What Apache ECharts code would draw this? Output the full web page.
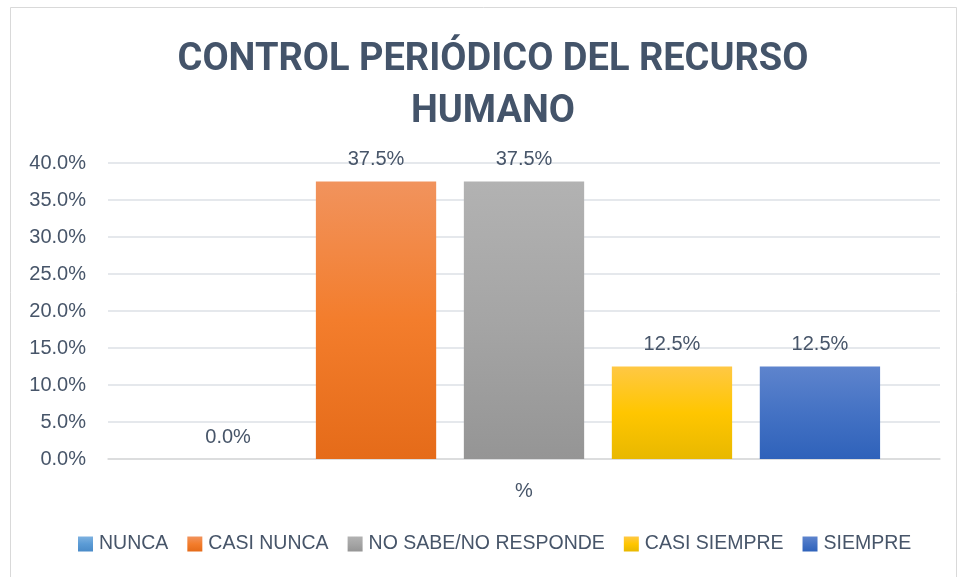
<!DOCTYPE html>
<html>
<head>
<meta charset="utf-8">
<style>
  html, body { margin: 0; padding: 0; background: #fff; }
  #chart { width: 964px; height: 577px; }
</style>
<script src="https://cdn.jsdelivr.net/npm/echarts@6/dist/echarts.min.js"></script>
</head>
<body>
<div id="chart"></div>
<script>
  // datos
  var categories = ["%"];
  var seriesNames = ["NUNCA", "CASI NUNCA", "NO SABE/NO RESPONDE", "CASI SIEMPRE", "SIEMPRE"];
  var seriesValues = [0.0, 37.5, 37.5, 12.5, 12.5];
  var yTicks = { min: 0, max: 40, interval: 5 };

  // degradados tipo Office (arriba, medio, abajo)
  var palette = [
    ["#7DB1E0", "#5B9BD5", "#4A8BC8"],
    ["#F1935D", "#F37D2C", "#E56B19"],
    ["#B2B2B2", "#A5A5A5", "#959595"],
    ["#FFC844", "#FFC600", "#E8B800"],
    ["#5E84CD", "#4472C4", "#2F62BA"]
  ];
  var TXT = "#475569";

  function grad(c) {
    return { type: "linear", x: 0, y: 0, x2: 0, y2: 1,
      colorStops: [{ offset: 0, color: c[0] }, { offset: 0.5, color: c[1] }, { offset: 1, color: c[2] }] };
  }

  var series = seriesNames.map(function (name, i) {
    return {
      name: name, type: "bar",
      data: [seriesValues[i]],
      barGap: "23%", barCategoryGap: "14.4%",
      itemStyle: { color: grad(palette[i]) },
      label: {
        show: true, position: "top", distance: 12,
        color: TXT, fontSize: 20, fontFamily: "Liberation Sans",
        formatter: function (p) { return p.value.toFixed(1) + "%"; }
      }
    };
  });

  var chart = echarts.init(document.getElementById("chart"), null, { renderer: "canvas" });
  chart.setOption({
    backgroundColor: "#fff",
    animation: false,
    title: {
      text: "CONTROL PERIÓDICO DEL RECURSO\nHUMANO",
      left: 493, top: 34, padding: 0, textAlign: "center",
      textStyle: { color: "#44546A", fontSize: 38, fontWeight: "bold",
                   fontFamily: "Roboto", lineHeight: 52 }
    },
    graphic: [{
      type: "rect", shape: { x: 10.5, y: 7.5, width: 946, height: 600 },
      style: { fill: "none", stroke: "#D9D9D9", lineWidth: 1 }, silent: true
    }],
    legend: {
      bottom: 23, left: 78, padding: 0,
      itemWidth: 15, itemHeight: 15, itemGap: 19,
      icon: "rect",
      textStyle: { color: TXT, fontSize: 19.5, fontFamily: "Liberation Sans", padding: [0, 0, 0, 1] },
      data: seriesNames
    },
    grid: { left: 108, right: 24, top: 163, bottom: 118, containLabel: false },
    xAxis: {
      type: "category", data: categories,
      axisLine: { lineStyle: { color: "#D9D9D9", width: 1.5 } },
      axisTick: { show: false },
      axisLabel: { color: TXT, fontSize: 20, fontFamily: "Liberation Sans", margin: 22 }
    },
    yAxis: {
      type: "value", min: yTicks.min, max: yTicks.max, interval: yTicks.interval,
      axisLine: { show: false }, axisTick: { show: false },
      splitLine: { lineStyle: { color: "#DDE1E6", width: 1.5 } },
      axisLabel: { color: TXT, fontSize: 20, fontFamily: "Liberation Sans", margin: 22,
                   formatter: function (v) { return v.toFixed(1) + "%"; } }
    },
    series: series
  });
</script>
</body>
</html>
